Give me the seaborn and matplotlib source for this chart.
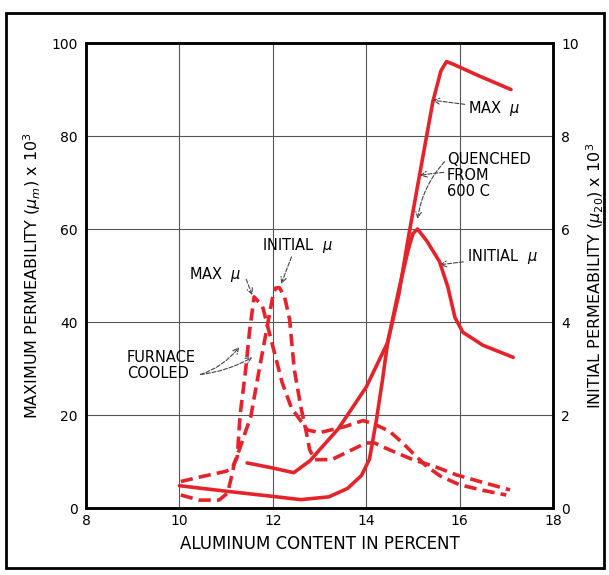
import matplotlib
matplotlib.use("Agg")
import matplotlib.pyplot as plt
from matplotlib.patches import Rectangle
import seaborn as sns

# quenched from 600 C, maximum permeability (left axis, x10^3)
qmax_x = [11.45, 12.0, 12.45, 12.8, 13.0, 13.4, 14.0, 14.46, 14.7, 14.9, 15.15, 15.43, 15.6, 15.72, 15.85, 16.4, 17.1]
qmax_y = [9.7, 8.6, 7.6, 10.2, 12.5, 17.0, 26.0, 35.6, 46.0, 58.0, 72.0, 87.5, 94.0, 96.0, 95.5, 93.0, 90.0]

# quenched from 600 C, initial permeability (right axis, x10^3)
qini_x = [10.0, 10.5, 11.1, 12.0, 12.6, 13.2, 13.6, 13.9, 14.07, 14.22, 14.35, 14.46, 14.7, 14.9, 15.0, 15.1,
          15.3, 15.57, 15.75, 15.9, 16.07, 16.5, 17.15]
qini_y = [0.48, 0.42, 0.35, 0.25, 0.18, 0.24, 0.42, 0.7, 1.05, 1.9, 2.76, 3.56, 4.7, 5.55, 5.9, 6.0,
          5.74, 5.3, 4.75, 4.1, 3.78, 3.5, 3.24]

# furnace cooled, maximum permeability (left axis)
fmax_x = [10.03, 10.5, 11.0, 11.13, 11.24, 11.3, 11.42, 11.5, 11.6, 11.78, 12.0, 12.2, 12.4, 12.53, 12.74,
          13.0, 13.54, 13.93, 14.14, 14.5, 14.78, 15.05, 15.3, 15.6, 16.0, 16.5, 17.0]
fmax_y = [5.7, 6.8, 7.9, 8.6, 11.0, 20.0, 29.8, 37.8, 45.4, 43.4, 34.8, 27.0, 21.5, 19.7, 16.8,
          16.2, 17.5, 18.8, 18.2, 16.5, 14.0, 11.3, 8.9, 6.8, 5.0, 3.8, 2.8]

# furnace cooled, initial permeability (right axis)
fini_x = [10.03, 10.43, 10.85, 11.03, 11.1, 11.18, 11.3, 11.43, 11.53, 11.71, 11.88, 12.0, 12.06, 12.14, 12.25,
          12.36, 12.46, 12.6, 12.72, 12.79, 12.9, 13.26, 13.69, 14.0, 14.18, 14.5, 15.0, 15.5, 15.94, 16.5, 17.08]
fini_y = [0.28, 0.17, 0.17, 0.32, 0.6, 0.97, 1.3, 1.68, 1.97, 2.98, 3.9, 4.55, 4.73, 4.74, 4.55,
          4.06, 2.98, 2.18, 1.62, 1.25, 1.04, 1.04, 1.25, 1.4, 1.4, 1.25, 1.04, 0.88, 0.71, 0.55, 0.39]

x_ticks = [8, 10, 12, 14, 16, 18]
left_ticks = [0, 20, 40, 60, 80, 100]
right_ticks = [0, 2, 4, 6, 8, 10]

sns.set_style("white")
plt.rcParams["font.family"] = ["DejaVu Sans"]
plt.rcParams["text.color"] = "black"
plt.rcParams["axes.labelcolor"] = "black"
plt.rcParams["xtick.color"] = "black"
plt.rcParams["ytick.color"] = "black"

red = "#e3242b"
dash = (0, (3.4, 1.7))

fig = plt.figure(figsize=(6.09, 5.75), dpi=100)
ax = fig.add_axes([0.1412, 0.1165, 0.7668, 0.8087])
ax2 = ax.twinx()

sns.lineplot(x=qmax_x, y=qmax_y, ax=ax, color=red, lw=2.6, estimator=None, sort=False)
sns.lineplot(x=fmax_x, y=fmax_y, ax=ax, color=red, lw=2.6, linestyle=dash, estimator=None, sort=False)
sns.lineplot(x=qini_x, y=qini_y, ax=ax2, color=red, lw=2.6, estimator=None, sort=False)
sns.lineplot(x=fini_x, y=fini_y, ax=ax2, color=red, lw=2.6, linestyle=dash, estimator=None, sort=False)

ax.set_xlim(8, 18)
ax.set_ylim(0, 100)
ax2.set_ylim(0, 10)
ax.set_xticks(x_ticks)
ax.set_yticks(left_ticks)
ax2.set_yticks(right_ticks)
ax.grid(True, color="#555555", lw=0.8)
ax2.grid(False)
ax.tick_params(length=0, labelsize=10, pad=6)
ax.tick_params(axis="x", pad=4)
ax2.tick_params(length=0, labelsize=10, pad=6)

for a in (ax, ax2):
    for s in a.spines.values():
        s.set_color("black")
        s.set_linewidth(1.8)

ax.set_xlabel("ALUMINUM CONTENT IN PERCENT", fontsize=12, labelpad=5)
ax.set_ylabel(r"MAXIMUM PERMEABILITY ($\mu_m$) x 10$^3$", fontsize=11.5, labelpad=6)
ax2.set_ylabel(r"INITIAL PERMEABILITY ($\mu_{20}$) x 10$^3$", fontsize=11.5, labelpad=4, rotation=90)

arrow = dict(arrowstyle="->", linestyle="--", color="#444444", lw=0.8, shrinkA=0, shrinkB=0)
txt = dict(fontsize=10.5, va="center", ha="left")

ax.annotate(r"MAX  $\mu$", xy=(15.42, 87.7), xytext=(16.18, 86.0), arrowprops=arrow, **txt)
ax.annotate("QUENCHED\nFROM\n600 C", xy=(15.15, 71.5), xytext=(15.73, 71.5), linespacing=1.05,
            arrowprops=dict(arrow, connectionstyle="arc3,rad=0.1"), **txt)
ax.annotate("", xy=(15.1, 62.2), xytext=(15.68, 74.5), arrowprops=dict(arrow, connectionstyle="arc3,rad=0.15"))
ax.annotate(r"INITIAL  $\mu$", xy=(15.57, 52.3), xytext=(16.15, 54.0), arrowprops=arrow, **txt)
ax.annotate(r"INITIAL  $\mu$", xy=(12.18, 48.2), xytext=(11.76, 56.4), **txt)
ax.annotate("", xy=(12.18, 48.2), xytext=(12.4, 54.0), arrowprops=arrow)
ax.annotate(r"MAX  $\mu$", xy=(11.56, 45.8), xytext=(10.21, 50.3), **txt)
ax.annotate("", xy=(11.56, 45.8), xytext=(11.43, 49.2), arrowprops=arrow)
ax.annotate("FURNACE\nCOOLED", xy=(11.28, 34.6), xytext=(8.88, 30.6), linespacing=1.05, **txt)
ax.annotate("", xy=(11.28, 34.6), xytext=(10.45, 28.7), arrowprops=dict(arrow, connectionstyle="arc3,rad=0.15"))
ax.annotate("", xy=(11.56, 32.4), xytext=(10.45, 28.7), arrowprops=dict(arrow, connectionstyle="arc3,rad=0.1"))

fig.patches.append(Rectangle((0.01, 0.012), 0.982, 0.965, transform=fig.transFigure,
                             fill=False, edgecolor="black", lw=2))

fig.savefig("out.png", dpi=100)
